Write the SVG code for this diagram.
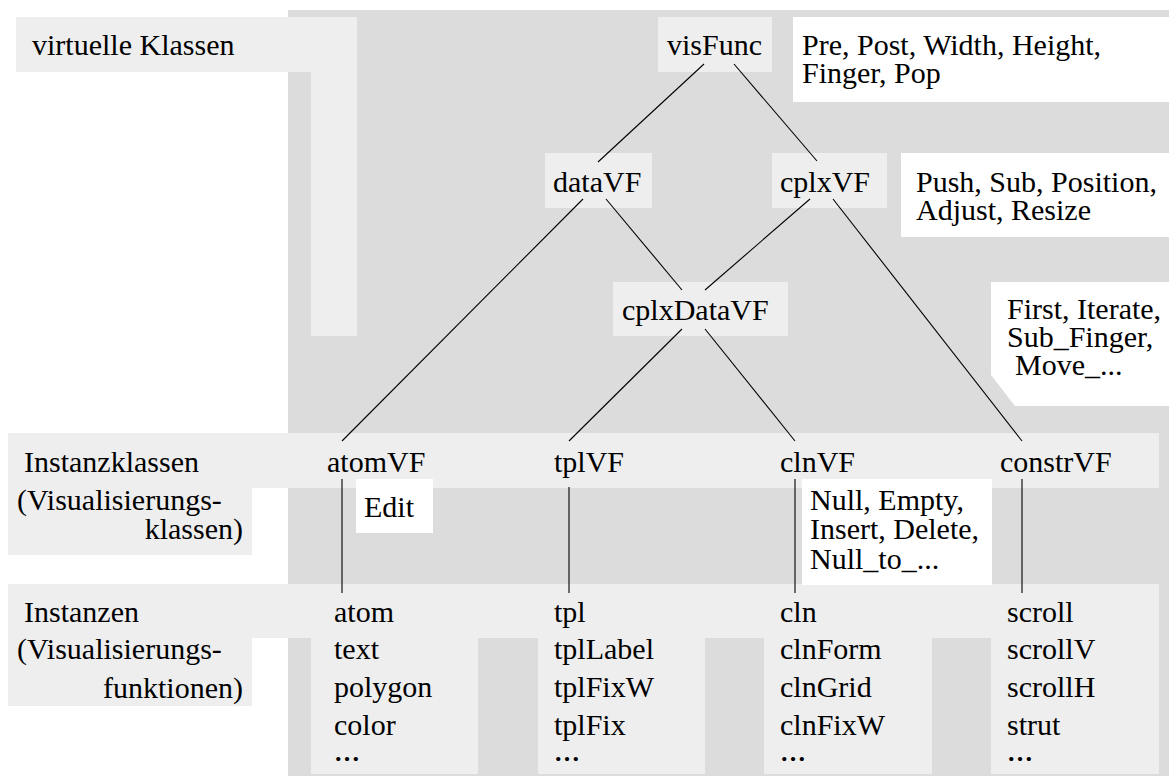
<svg xmlns="http://www.w3.org/2000/svg" width="1169" height="776" viewBox="0 0 1169 776">
  <style>
    text { font-family: "Liberation Serif", "Times New Roman", serif; font-size: 30px; fill: #000; }
    .right { text-anchor: end; }
    .more { font-size: 26px; font-weight: bold; }
    .back { fill: #dcdcdc; }
    .band { fill: #eeeeee; }
    .node { fill: #eeeeee; }
    .note { fill: #ffffff; }
    .edge { stroke: #000; stroke-width: 1.1; fill: none; }
  </style>

  <!-- class hierarchy area -->
  <rect class="back" x="288" y="10" width="881" height="766"/>

  <!-- row bands -->
  <path class="band" d="M16,17 H357 V336 H311 V72 H16 Z"/>
  <path class="band" d="M8,433 H1159 V488 H252 V555 H8 Z"/>
  <path class="band" d="M8,584 H1159 V774 H991 V638 H932 V774 H764 V638 H705 V774 H538 V638 H478 V774 H311 V638 H252 V706 H8 Z"/>

  <!-- row labels -->
  <g id="label-virtual">
    <text x="32" y="55">virtuelle Klassen</text>
  </g>
  <g id="label-instance-classes">
    <text x="24" y="472">Instanzklassen</text>
    <text x="17" y="510">(Visualisierungs-</text>
    <text class="right" x="243" y="539">klassen)</text>
  </g>
  <g id="label-instances">
    <text x="24" y="622">Instanzen</text>
    <text x="17" y="659">(Visualisierungs-</text>
    <text class="right" x="243" y="698">funktionen)</text>
  </g>

  <!-- method notes -->
  <g id="note-visFunc">
    <rect class="note" x="793" y="17" width="376" height="85"/>
    <text x="802" y="55">Pre, Post, Width, Height,</text>
    <text x="802" y="83">Finger, Pop</text>
  </g>
  <g id="note-cplxVF">
    <rect class="note" x="901" y="153" width="268" height="84"/>
    <text x="916" y="192">Push, Sub, Position,</text>
    <text x="916" y="220">Adjust, Resize</text>
  </g>
  <g id="note-cplxDataVF">
    <path class="note" d="M991,282 H1169 V406 H1015 L991,375 Z"/>
    <text x="1007" y="319">First, Iterate,</text>
    <text x="1007" y="347">Sub_Finger,</text>
    <text x="1015" y="375">Move_...</text>
  </g>
  <g id="note-atomVF">
    <rect class="note" x="356" y="479" width="77" height="54"/>
    <text x="364" y="517">Edit</text>
  </g>
  <g id="note-clnVF">
    <rect class="note" x="802" y="479" width="190" height="106"/>
    <text x="810" y="510">Null, Empty,</text>
    <text x="810" y="539">Insert, Delete,</text>
    <text x="810" y="569">Null_to_...</text>
  </g>

  <!-- virtual classes -->
  <g id="visFunc">
    <rect class="node" x="658" y="17" width="114" height="55"/>
    <text x="667" y="55">visFunc</text>
  </g>
  <g id="dataVF">
    <rect class="node" x="545" y="153" width="107" height="55"/>
    <text x="553" y="192">dataVF</text>
  </g>
  <g id="cplxVF">
    <rect class="node" x="772" y="153" width="115" height="55"/>
    <text x="780" y="192">cplxVF</text>
  </g>
  <g id="cplxDataVF">
    <rect class="node" x="613" y="282" width="175" height="54"/>
    <text x="622" y="320">cplxDataVF</text>
  </g>

  <!-- instance classes -->
  <g id="atomVF"><text x="327" y="472">atomVF</text></g>
  <g id="tplVF"><text x="554" y="472">tplVF</text></g>
  <g id="clnVF"><text x="780" y="472">clnVF</text></g>
  <g id="constrVF"><text x="1000" y="472">constrVF</text></g>

  <!-- instances -->
  <g id="atom-instances">
    <text x="334" y="622">atom</text>
    <text x="334" y="659">text</text>
    <text x="334" y="697">polygon</text>
    <text x="334" y="735">color</text>
    <text class="more" x="334" y="761">…</text>
  </g>
  <g id="tpl-instances">
    <text x="554" y="622">tpl</text>
    <text x="554" y="659">tplLabel</text>
    <text x="554" y="697">tplFixW</text>
    <text x="554" y="735">tplFix</text>
    <text class="more" x="554" y="761">…</text>
  </g>
  <g id="cln-instances">
    <text x="780" y="622">cln</text>
    <text x="780" y="659">clnForm</text>
    <text x="780" y="697">clnGrid</text>
    <text x="780" y="735">clnFixW</text>
    <text class="more" x="780" y="761">…</text>
  </g>
  <g id="constr-instances">
    <text x="1007" y="622">scroll</text>
    <text x="1007" y="659">scrollV</text>
    <text x="1007" y="697">scrollH</text>
    <text x="1007" y="735">strut</text>
    <text class="more" x="1007" y="761">…</text>
  </g>

  <!-- inheritance connectors -->
  <g id="connectors" class="edge">
    <line x1="704" y1="64" x2="598" y2="162"/>
    <line x1="734" y1="64" x2="817" y2="161"/>
    <line x1="583" y1="199" x2="342" y2="441"/>
    <line x1="606" y1="199" x2="682" y2="290"/>
    <line x1="810" y1="199" x2="705" y2="290"/>
    <line x1="833" y1="199" x2="1022" y2="441"/>
    <line x1="682" y1="329" x2="569" y2="441"/>
    <line x1="705" y1="329" x2="795" y2="441"/>
    <line x1="342" y1="479" x2="342" y2="593"/>
    <line x1="569" y1="487" x2="569" y2="593"/>
    <line x1="795" y1="479" x2="795" y2="593"/>
    <line x1="1022" y1="479" x2="1022" y2="593"/>
  </g>
</svg>
